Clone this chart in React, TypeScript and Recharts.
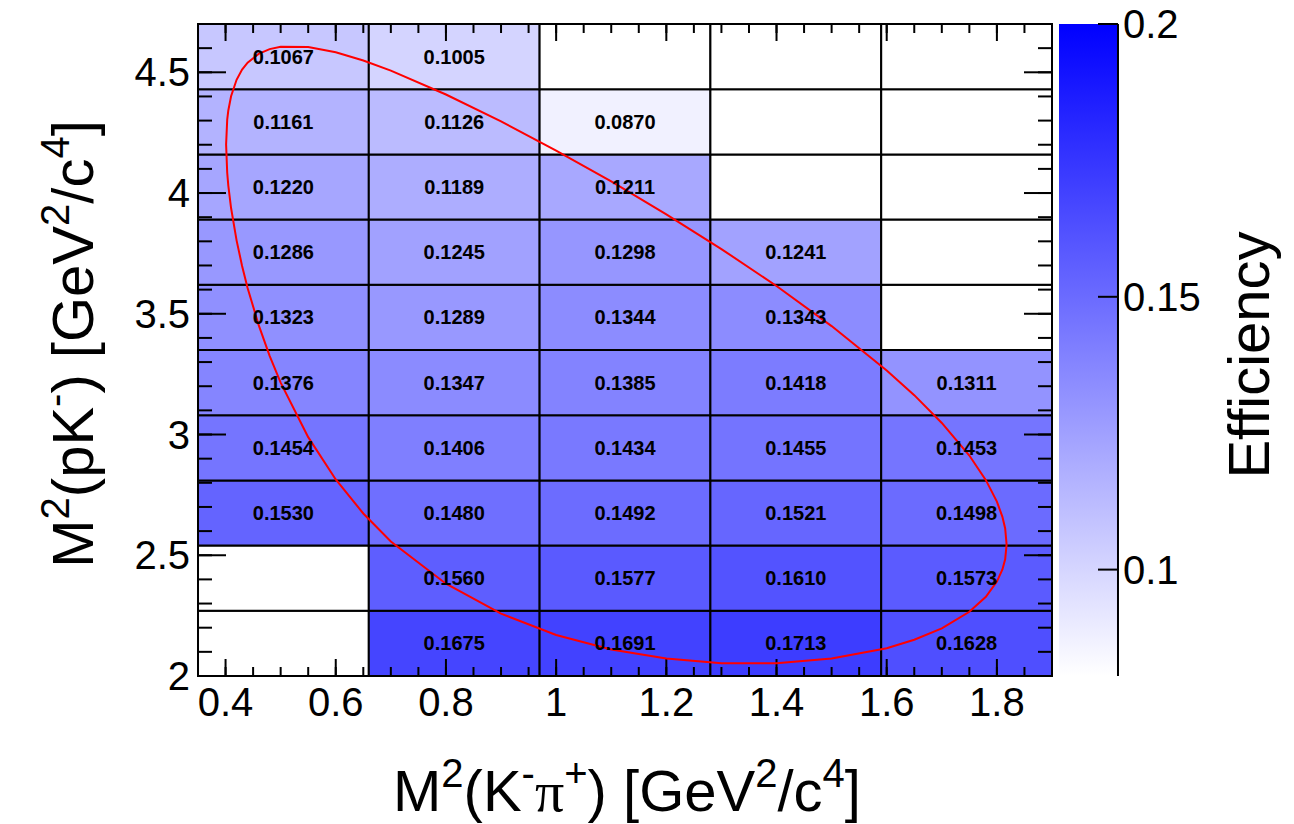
import React from 'react';
import { ComposedChart, XAxis, YAxis, ReferenceArea, Scatter } from 'recharts';

// bin edges of the 2D histogram
const xEdges = [0.35, 0.66, 0.97, 1.28, 1.59, 1.9];
const yEdges = [2.0, 2.27, 2.54, 2.81, 3.08, 3.35, 3.62, 3.89, 4.16, 4.43, 4.7];

// efficiency per bin, one array per M2(pK) row, from bottom to top (null = empty bin)
const row0 = [null, 0.1675, 0.1691, 0.1713, 0.1628];
const row1 = [null, 0.156, 0.1577, 0.161, 0.1573];
const row2 = [0.153, 0.148, 0.1492, 0.1521, 0.1498];
const row3 = [0.1454, 0.1406, 0.1434, 0.1455, 0.1453];
const row4 = [0.1376, 0.1347, 0.1385, 0.1418, 0.1311];
const row5 = [0.1323, 0.1289, 0.1344, 0.1343, null];
const row6 = [0.1286, 0.1245, 0.1298, 0.1241, null];
const row7 = [0.122, 0.1189, 0.1211, null, null];
const row8 = [0.1161, 0.1126, 0.087, null, null];
const row9 = [0.1067, 0.1005, null, null, null];
const efficiency = [row0, row1, row2, row3, row4, row5, row6, row7, row8, row9];

// Dalitz plot boundary (red contour), upper edge then lower edge
const boundaryUpper = [
  { x: 0.401, y: 4.201 }, { x: 0.403, y: 4.304 }, { x: 0.405, y: 4.342 }, { x: 0.41, y: 4.401 },
  { x: 0.42, y: 4.469 }, { x: 0.43, y: 4.511 }, { x: 0.44, y: 4.54 }, { x: 0.46, y: 4.576 },
  { x: 0.48, y: 4.596 }, { x: 0.5, y: 4.606 }, { x: 0.55, y: 4.605 }, { x: 0.6, y: 4.583 },
  { x: 0.65, y: 4.549 }, { x: 0.7, y: 4.507 }, { x: 0.8, y: 4.408 }, { x: 0.9, y: 4.297 },
  { x: 1.0, y: 4.176 }, { x: 1.1, y: 4.048 }, { x: 1.2, y: 3.912 }, { x: 1.3, y: 3.768 },
  { x: 1.4, y: 3.615 }, { x: 1.5, y: 3.449 }, { x: 1.6, y: 3.265 }, { x: 1.65, y: 3.163 },
  { x: 1.7, y: 3.048 }, { x: 1.75, y: 2.913 }, { x: 1.78, y: 2.811 }, { x: 1.8, y: 2.722 },
  { x: 1.81, y: 2.659 }, { x: 1.815, y: 2.611 }, { x: 1.8176, y: 2.545 },
];
const boundaryLower = [
  { x: 1.815, y: 2.483 }, { x: 1.81, y: 2.441 }, { x: 1.8, y: 2.391 }, { x: 1.78, y: 2.328 },
  { x: 1.75, y: 2.266 }, { x: 1.7, y: 2.197 }, { x: 1.65, y: 2.15 }, { x: 1.6, y: 2.115 },
  { x: 1.5, y: 2.072 }, { x: 1.4, y: 2.053 }, { x: 1.3, y: 2.053 }, { x: 1.2, y: 2.072 },
  { x: 1.1, y: 2.11 }, { x: 1.0, y: 2.17 }, { x: 0.9, y: 2.258 }, { x: 0.8, y: 2.382 },
  { x: 0.7, y: 2.557 }, { x: 0.65, y: 2.673 }, { x: 0.6, y: 2.814 }, { x: 0.55, y: 2.989 },
  { x: 0.5, y: 3.215 }, { x: 0.48, y: 3.326 }, { x: 0.46, y: 3.454 }, { x: 0.44, y: 3.607 },
  { x: 0.43, y: 3.698 }, { x: 0.42, y: 3.804 }, { x: 0.41, y: 3.938 }, { x: 0.405, y: 4.031 },
  { x: 0.403, y: 4.084 }, { x: 0.401, y: 4.201 },
];

const xMajorTicks = [0.4, 0.6, 0.8, 1, 1.2, 1.4, 1.6, 1.8];
const xMinorTicks = [
  0.35, 0.4, 0.45, 0.5, 0.55, 0.6, 0.65, 0.7, 0.75, 0.8, 0.85, 0.9, 0.95, 1, 1.05, 1.1,
  1.15, 1.2, 1.25, 1.3, 1.35, 1.4, 1.45, 1.5, 1.55, 1.6, 1.65, 1.7, 1.75, 1.8, 1.85, 1.9,
];
const yMajorTicks = [2, 2.5, 3, 3.5, 4, 4.5];
const yMinorTicks = [
  2, 2.1, 2.2, 2.3, 2.4, 2.5, 2.6, 2.7, 2.8, 2.9, 3, 3.1, 3.2, 3.3, 3.4, 3.5, 3.6, 3.7,
  3.8, 3.9, 4, 4.1, 4.2, 4.3, 4.4, 4.5, 4.6, 4.7,
];
const zTicks = [0.1, 0.15, 0.2];
const zRange = [0.0805, 0.2];

const W = 1294;
const H = 824;
const FONT = '"Liberation Sans", Arial, Helvetica, sans-serif';
const TITLE = 58;
const SUP = 40;
const UP = 24;
// axes must have a non-zero size to be drawn
const THIN = 0.01;

const cellColor = (v: number | null) => {
  if (v == null) return '#ffffff';
  const t = Math.max(0, Math.min(1, (v - zRange[0]) / (zRange[1] - zRange[0])));
  const c = Math.round(255 * (1 - t));
  return `rgb(${c},${c},255)`;
};

// tick-mark-only axes: draw the line, no label
const NoLabel = () => <g />;

const XTitle = () => (
  <text x={627} y={811} textAnchor="middle" fontSize={TITLE} fill="#000" fontFamily={FONT}>
    M<tspan fontSize={SUP} dy={-UP}>2</tspan>
    <tspan dy={UP}>(K</tspan>
    <tspan fontSize={SUP} dy={-UP}>-</tspan>
    <tspan dy={UP} fontFamily='"Liberation Serif", serif'>π</tspan>
    <tspan fontSize={SUP} dy={-UP}>+</tspan>
    <tspan dy={UP}>) [GeV</tspan>
    <tspan fontSize={SUP} dy={-UP}>2</tspan>
    <tspan dy={UP}>/c</tspan>
    <tspan fontSize={SUP} dy={-UP}>4</tspan>
    <tspan dy={UP}>]</tspan>
  </text>
);

const YTitle = () => (
  <text
    x={93}
    y={344}
    transform="rotate(-90, 93, 344)"
    textAnchor="middle"
    fontSize={TITLE}
    fill="#000"
    fontFamily={FONT}
  >
    M<tspan fontSize={SUP} dy={-UP}>2</tspan>
    <tspan dy={UP}>(pK</tspan>
    <tspan fontSize={SUP} dy={-UP}>-</tspan>
    <tspan dy={UP}>) [GeV</tspan>
    <tspan fontSize={SUP} dy={-UP}>2</tspan>
    <tspan dy={UP}>/c</tspan>
    <tspan fontSize={SUP} dy={-UP}>4</tspan>
    <tspan dy={UP}>]</tspan>
  </text>
);

const ZTitle = () => (
  <text
    x={1269}
    y={355}
    transform="rotate(-90, 1269, 355)"
    textAnchor="middle"
    fontSize={TITLE}
    fill="#000"
    fontFamily={FONT}
  >
    Efficiency
  </text>
);

const frame = { stroke: '#000', strokeWidth: 2 };
const tickStroke = { stroke: '#000', strokeWidth: 2 };
const labelTick = { fontSize: 40, fill: '#000', fontFamily: FONT };

const App: React.FC = () => {
  const cells: React.ReactNode[] = [];
  efficiency.forEach((row, r) => {
    row.forEach((v, c) => {
      cells.push(
        <ReferenceArea
          key={`cell-${r}-${c}`}
          xAxisId="x"
          yAxisId="y"
          x1={xEdges[c]}
          x2={xEdges[c + 1]}
          y1={yEdges[r]}
          y2={yEdges[r + 1]}
          fill={cellColor(v)}
          fillOpacity={1}
          stroke="#000"
          strokeWidth={2}
          ifOverflow="visible"
          label={
            v == null
              ? undefined
              : {
                  value: v.toFixed(4),
                  position: 'center',
                  fontSize: 20,
                  fontWeight: 'bold',
                  fill: '#000',
                  fontFamily: FONT,
                }
          }
        />
      );
    });
  });

  return (
    <div style={{ position: 'absolute', left: 0, top: 0, width: W, height: H, background: '#fff', fontFamily: FONT }}>
      <svg width={0} height={0} style={{ position: 'absolute' }}>
        <defs>
          <linearGradient id="effGradient" x1="0" y1="1" x2="0" y2="0">
            <stop offset="0" stopColor="rgb(255,255,255)" />
            <stop offset="1" stopColor="rgb(0,0,255)" />
          </linearGradient>
        </defs>
      </svg>
      <div style={{ position: 'absolute', left: 0, top: 0 }}>
        <ComposedChart width={W} height={H} margin={{ top: 24, right: 242, bottom: 148, left: 198 }}>
          {cells}
          <Scatter
            xAxisId="x"
            yAxisId="y"
            data={[...boundaryUpper, ...boundaryLower]}
            dataKey="y"
            line={{ stroke: '#ff0000', strokeWidth: 2 }}
            lineType="joint"
            shape={() => <g />}
            isAnimationActive={false}
          />
          <XAxis
            xAxisId="x"
            dataKey="x"
            type="number"
            domain={[0.35, 1.9]}
            allowDataOverflow
            ticks={xMajorTicks}
            interval={0}
            height={THIN}
            tickSize={0}
            tickMargin={12}
            tickLine={false}
            axisLine={frame}
            tick={labelTick}
            label={<XTitle />}
          />
          <XAxis xAxisId="xb1" dataKey="x" type="number" domain={[0.35, 1.9]} allowDataOverflow ticks={xMajorTicks}
            interval={0} height={THIN} mirror tickSize={17} tick={NoLabel} axisLine={false} tickLine={tickStroke} />
          <XAxis xAxisId="xb2" dataKey="x" type="number" domain={[0.35, 1.9]} allowDataOverflow ticks={xMinorTicks}
            interval={0} height={THIN} mirror tickSize={9} tick={NoLabel} axisLine={false} tickLine={tickStroke} />
          <XAxis xAxisId="xt1" dataKey="x" orientation="top" type="number" domain={[0.35, 1.9]} allowDataOverflow
            ticks={xMajorTicks} interval={0} height={THIN} mirror tickSize={17} tick={NoLabel} axisLine={frame}
            tickLine={tickStroke} />
          <XAxis xAxisId="xt2" dataKey="x" orientation="top" type="number" domain={[0.35, 1.9]} allowDataOverflow
            ticks={xMinorTicks} interval={0} height={THIN} mirror tickSize={9} tick={NoLabel} axisLine={false}
            tickLine={tickStroke} />
          <YAxis
            yAxisId="y"
            dataKey="y"
            type="number"
            domain={[2, 4.7]}
            allowDataOverflow
            ticks={yMajorTicks}
            interval={0}
            width={THIN}
            tickSize={0}
            tickMargin={8}
            tickLine={false}
            axisLine={frame}
            tick={labelTick}
            label={<YTitle />}
          />
          <YAxis yAxisId="yl1" type="number" domain={[2, 4.7]} allowDataOverflow ticks={yMajorTicks} interval={0}
            width={THIN} mirror tickSize={28} tick={NoLabel} axisLine={false} tickLine={tickStroke} />
          <YAxis yAxisId="yl2" type="number" domain={[2, 4.7]} allowDataOverflow ticks={yMinorTicks} interval={0}
            width={THIN} mirror tickSize={14} tick={NoLabel} axisLine={false} tickLine={tickStroke} />
          <YAxis yAxisId="yr1" orientation="right" type="number" domain={[2, 4.7]} allowDataOverflow ticks={yMajorTicks}
            interval={0} width={THIN} mirror tickSize={28} tick={NoLabel} axisLine={frame} tickLine={tickStroke} />
          <YAxis yAxisId="yr2" orientation="right" type="number" domain={[2, 4.7]} allowDataOverflow ticks={yMinorTicks}
            interval={0} width={THIN} mirror tickSize={14} tick={NoLabel} axisLine={false} tickLine={tickStroke} />
        </ComposedChart>
      </div>
      <div style={{ position: 'absolute', left: 0, top: 0 }}>
        <ComposedChart width={W} height={H} margin={{ top: 24, right: 176, bottom: 148, left: 1059 }}>
          <XAxis xAxisId="c" dataKey="x" type="number" domain={[0, 1]} allowDataOverflow hide />
          <ReferenceArea
            xAxisId="c"
            yAxisId="z"
            x1={0}
            x2={1}
            y1={zRange[0]}
            y2={zRange[1]}
            fill="url(#effGradient)"
            fillOpacity={1}
            ifOverflow="visible"
          />
          <YAxis
            yAxisId="z"
            orientation="right"
            type="number"
            domain={zRange}
            allowDataOverflow
            ticks={zTicks}
            interval={0}
            width={THIN}
            tickSize={0}
            tickMargin={5}
            tickLine={false}
            axisLine={frame}
            tick={labelTick}
            label={<ZTitle />}
          />
          <YAxis yAxisId="zt" orientation="right" type="number" domain={zRange} allowDataOverflow ticks={zTicks}
            interval={0} width={THIN} mirror tickSize={20} tick={NoLabel} axisLine={false} tickLine={tickStroke} />
        </ComposedChart>
      </div>
    </div>
  );
};

export default App;
